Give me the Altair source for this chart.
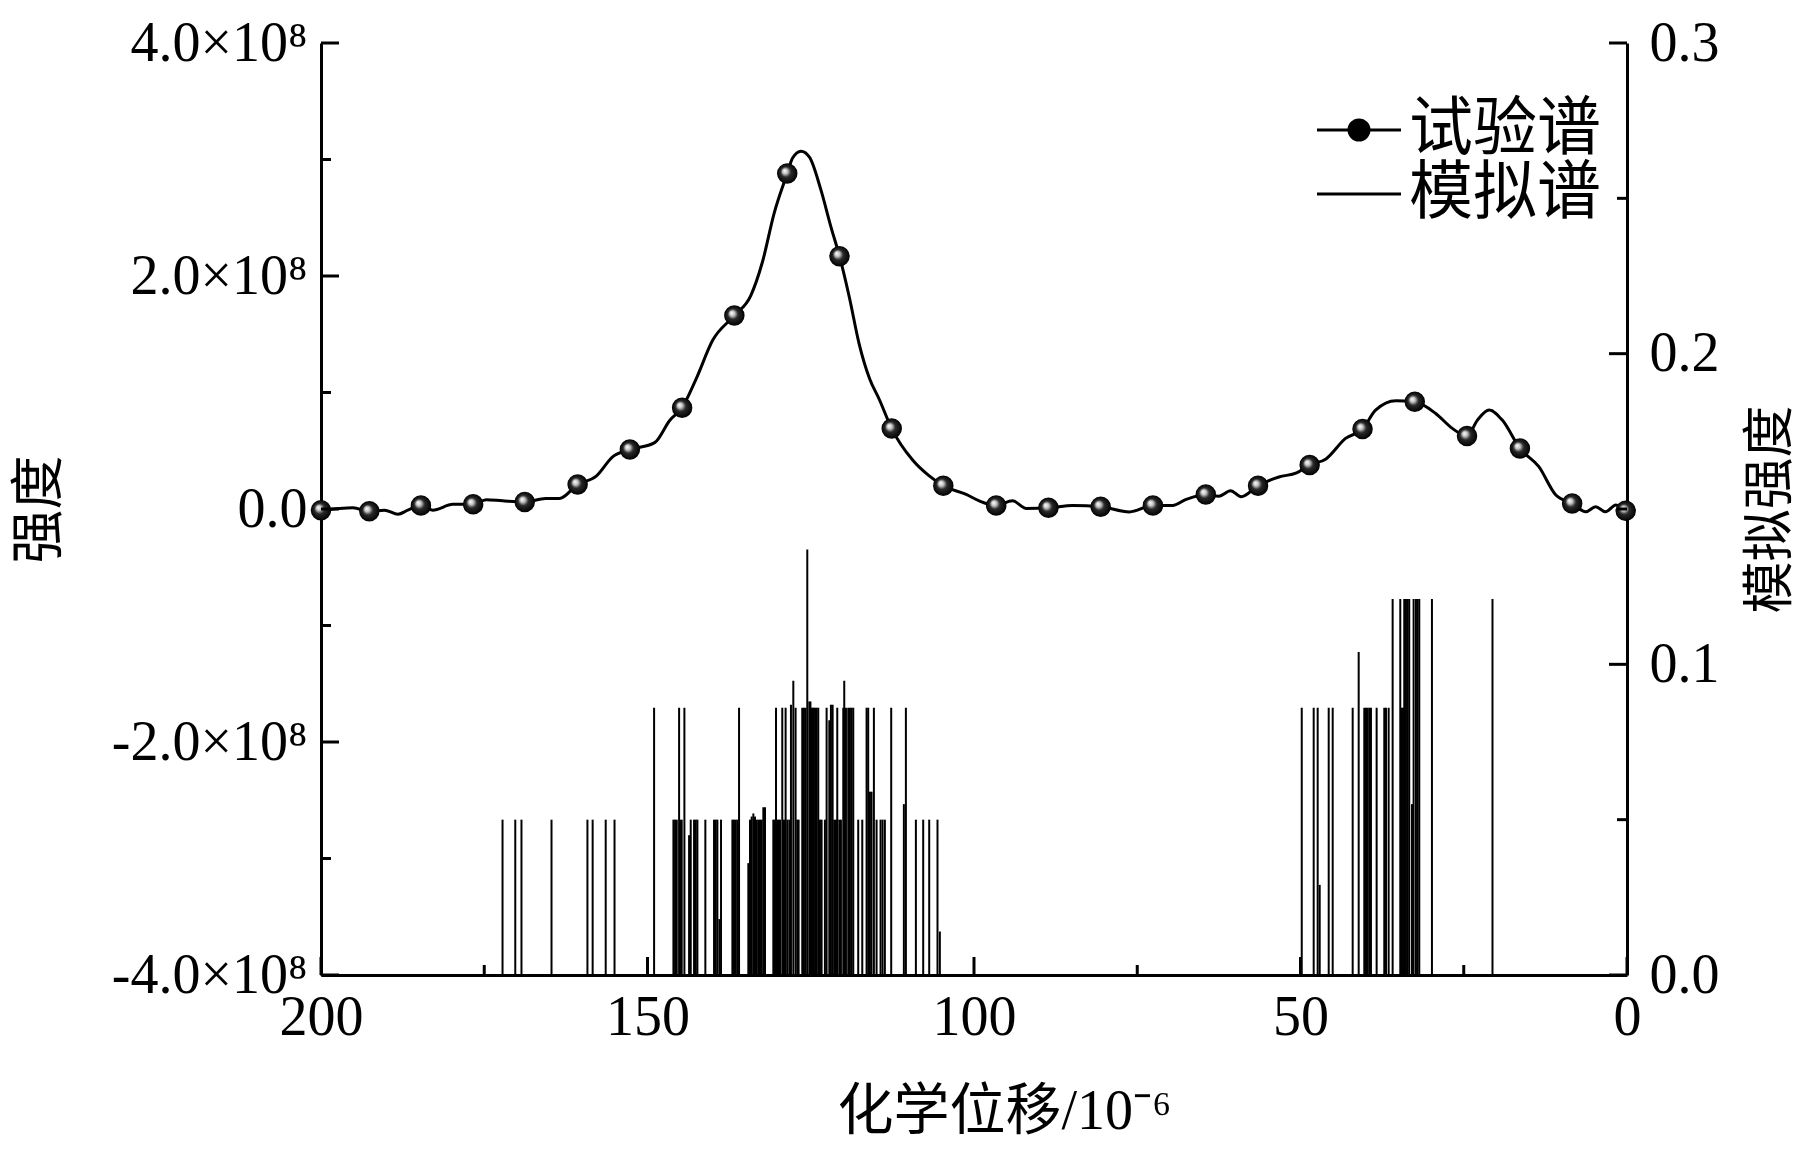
import altair as alt
import pandas as pd

# ---------------- data ----------------
# experimental spectrum (chemical shift, intensity in 1e8)
curve_shift = [200.0, 197.2, 195.1, 192.6, 190.3, 188.2, 186.7, 184.7, 182.9, 179.8,
               176.7, 174.7, 172.2, 168.8, 165.6, 163.5, 160.7, 157.9, 155.3, 152.7,
               148.9, 146.6, 144.7, 142.6, 140.0, 136.7, 134.2, 132.4, 130.6, 128.6,
               127.8, 126.5, 125.2, 123.5, 121.9, 120.6, 119.1, 117.6, 116.0, 114.5,
               112.6, 109.4, 107.0, 104.7, 101.2, 99.2, 96.6, 94.1, 92.0, 88.6,
               84.9, 80.6, 76.2, 72.6, 69.6, 67.6, 64.5, 62.5, 60.7, 59.1,
               56.5, 53.3, 50.6, 48.6, 46.1, 43.1, 40.5, 38.5, 35.4, 32.5,
               29.3, 26.7, 24.5, 22.9, 21.1, 19.1, 16.4, 13.5, 10.9, 8.4,
               6.3, 4.8, 3.3, 1.7, 0.2]
curve_int = [-0.01, 0.005, 0.01, -0.02, -0.01, -0.045, -0.01, 0.03, -0.01, 0.04,
             0.04, 0.08, 0.07, 0.06, 0.09, 0.09, 0.21, 0.28, 0.45, 0.51,
             0.57, 0.76, 0.87, 1.11, 1.45, 1.66, 1.83, 2.12, 2.54, 2.88,
             3.01, 3.07, 3.02, 2.75, 2.42, 2.17, 1.82, 1.42, 1.12, 0.94,
             0.69, 0.42, 0.29, 0.20, 0.125, 0.07, 0.03, 0.07, 0.005, 0.01,
             0.03, 0.02, -0.025, 0.03, 0.03, 0.08, 0.125, 0.11, 0.157, 0.105,
             0.20, 0.275, 0.31, 0.377, 0.43, 0.606, 0.686, 0.849, 0.93, 0.92,
             0.82, 0.69, 0.626, 0.763, 0.849, 0.763, 0.52, 0.363, 0.12, 0.048,
             -0.024, 0.019, -0.024, 0.034, -0.015]

marker_shift = [200.0, 192.6, 184.7, 176.7, 168.8, 160.7, 152.7, 144.7, 136.7, 128.6,
                120.6, 112.6, 104.7, 96.6, 88.6, 80.6, 72.6, 64.5, 56.5, 48.6,
                40.5, 32.5, 24.5, 16.4, 8.4, 0.2]
marker_int = [-0.01, -0.02, 0.03, 0.04, 0.06, 0.21, 0.51, 0.87, 1.66, 2.88,
              2.17, 0.69, 0.20, 0.03, 0.01, 0.02, 0.03, 0.125, 0.20, 0.377,
              0.686, 0.92, 0.626, 0.52, 0.048, -0.015]

# simulated stick spectrum (chemical shift, simulated intensity)
stick_shift = [172.2, 170.25, 169.3, 164.7, 159.2, 158.4, 156.4, 155.05, 148.99, 146.03,
               145.78, 145.52, 145.16, 145.01, 144.76, 144.35, 143.63, 143.38, 142.87, 142.61,
               142.36, 141.14, 139.81, 139.55, 139.30, 138.99, 138.74, 137.00, 136.75, 136.49,
               136.24, 135.98, 134.56, 134.30, 134.05, 133.79, 133.54, 133.28, 133.03, 132.77,
               132.52, 132.26, 132.01, 130.73, 130.53, 130.32, 130.12, 129.92, 129.71, 129.36,
               129.10, 128.85, 128.59, 128.28, 128.03, 127.67, 127.32, 127.06, 126.86, 126.30,
               126.04, 125.79, 125.53, 125.22, 125.05, 124.87, 124.69, 124.51, 124.30, 124.10,
               123.85, 123.59, 123.34, 122.83, 122.57, 122.16, 121.91, 121.65, 121.40, 121.14,
               120.94, 120.63, 120.38, 120.02, 119.87, 119.61, 119.26, 119.00, 118.75, 118.49,
               117.73, 117.11, 116.45, 116.20, 115.94, 115.69, 115.33, 114.92, 114.31, 114.00,
               113.65, 112.68, 110.74, 110.43, 108.90, 107.78, 106.86, 105.59, 105.23,
               49.81, 47.98, 47.37, 47.06, 45.68, 45.07, 42.01, 41.09, 40.23, 39.97,
               39.72, 39.46, 39.21, 38.34, 37.17, 36.91, 36.50, 35.89, 34.72, 34.46,
               34.26, 34.11, 33.85, 33.60, 33.35, 32.93, 32.68, 32.32, 32.07, 31.81,
               29.87, 20.60]
stick_height = [0.050, 0.050, 0.050, 0.050, 0.050, 0.050, 0.050, 0.050, 0.086, 0.050,
                0.050, 0.050, 0.086, 0.050, 0.050, 0.086, 0.045, 0.050, 0.050, 0.050,
                0.050, 0.050, 0.050, 0.050, 0.050, 0.018, 0.050, 0.050, 0.050, 0.050,
                0.050, 0.086, 0.036, 0.050, 0.051, 0.052, 0.051, 0.050, 0.050, 0.050,
                0.050, 0.054, 0.054, 0.050, 0.050, 0.086, 0.050, 0.050, 0.050, 0.086,
                0.050, 0.086, 0.050, 0.050, 0.087, 0.0947, 0.086, 0.050, 0.050, 0.086,
                0.086, 0.086, 0.137, 0.088, 0.088, 0.086, 0.086, 0.086, 0.086, 0.086,
                0.086, 0.050, 0.050, 0.050, 0.086, 0.082, 0.087, 0.087, 0.050, 0.050,
                0.086, 0.050, 0.050, 0.086, 0.0947, 0.086, 0.086, 0.086, 0.086, 0.086,
                0.050, 0.050, 0.086, 0.086, 0.059, 0.059, 0.086, 0.050, 0.050, 0.050,
                0.050, 0.086, 0.055, 0.086, 0.050, 0.050, 0.050, 0.050, 0.014,
                0.086, 0.086, 0.086, 0.029, 0.086, 0.086, 0.086, 0.104, 0.086, 0.086,
                0.086, 0.086, 0.086, 0.086, 0.086, 0.086, 0.086, 0.121, 0.121, 0.086,
                0.086, 0.121, 0.121, 0.121, 0.121, 0.055, 0.121, 0.121, 0.121, 0.121,
                0.121, 0.121]

x_major = [200, 150, 100, 50, 0]
x_minor = [175, 125, 75, 25]
left_major = [-4, -2, 0, 2, 4]
left_minor = [-3, -1, 1, 3]
right_major = [0.0, 0.1, 0.2, 0.3]
right_minor = [0.05, 0.15, 0.25]
legend_labels = ["试验谱", "模拟谱"]

x_title = "化学位移/10⁻⁶"
left_title = "强度"
right_title = "模拟强度"

# ---------------- style ----------------
W, H = 1306, 932
SERIF = "Liberation Serif, Noto Sans CJK SC"
MAJ, MIN = 18, 10

xs = alt.Scale(domain=[0, 200], reverse=True, nice=False, zero=False)
yl = alt.Scale(domain=[-4, 4], nice=False, zero=False)
yr = alt.Scale(domain=[0, 0.3], nice=False, zero=False)

curve_df = pd.DataFrame({"shift": curve_shift, "intensity": curve_int})
marker_df = pd.DataFrame({"shift": marker_shift, "intensity": marker_int})
stick_df = pd.DataFrame({"shift": stick_shift, "sim": stick_height})

x_axis = alt.Axis(values=x_major, format="d", tickSize=0, domainWidth=3, domainColor="black",
                  labelFont=SERIF, labelFontSize=56, labelColor="black", labelPadding=15,
                  labelFlush=False, grid=False, title=x_title, titleFont=SERIF,
                  titleFontSize=56, titleFontWeight="normal", titleColor="black",
                  titlePadding=39, titleX=W / 2 + 30)

left_axis = alt.Axis(values=left_major, orient="left", tickSize=0, domainWidth=3, domainColor="black",
                     labelExpr="datum.value == 0 ? '0.0' : (datum.value < 0 ? '-' : '') + format(abs(datum.value), '.1f') + '×10⁸'",
                     labelFont=SERIF, labelFontSize=56, labelColor="black", labelPadding=14,
                     labelLimit=400, labelFlush=False, grid=False, title=left_title, titleFont=SERIF,
                     titleFontSize=54, titleFontWeight="normal", titleColor="black",
                     titlePadding=54)

right_axis = alt.Axis(values=right_major, orient="right", format=".1f", tickSize=0, domainWidth=3,
                      domainColor="black", labelFont=SERIF, labelFontSize=56, labelColor="black",
                      labelPadding=22, labelFlush=False, grid=False, title=right_title, titleFont=SERIF,
                      titleFontSize=52, titleFontWeight="normal", titleColor="black",
                      titleAngle=270, titlePadding=78)

line = alt.Chart(curve_df).mark_line(color="black", strokeWidth=3, interpolate="monotone").encode(
    x=alt.X("shift:Q", scale=xs, axis=x_axis, title=x_title),
    y=alt.Y("intensity:Q", scale=yl, axis=left_axis, title=left_title),
)

ball = alt.RadialGradient(
    gradient="radial", x1=0.36, y1=0.36, r1=0.0, x2=0.5, y2=0.5, r2=0.5,
    stops=[alt.GradientStop(offset=0.0, color="#ffffff"),
           alt.GradientStop(offset=0.25, color="#c4c4c4"),
           alt.GradientStop(offset=0.5, color="#2a2a2a"),
           alt.GradientStop(offset=1.0, color="#000000")])

points = alt.Chart(marker_df).mark_point(filled=True, size=420, opacity=1, color=ball, strokeWidth=0).encode(
    x=alt.X("shift:Q", scale=xs, axis=x_axis, title=x_title),
    y=alt.Y("intensity:Q", scale=yl, axis=left_axis, title=left_title),
)

lmaj = alt.Chart(pd.DataFrame({"t": left_major})).mark_rule(color="black", strokeWidth=3).encode(
    y=alt.Y("t:Q", scale=yl, axis=left_axis, title=left_title), x=alt.value(0), x2=alt.value(MAJ))
lmin = alt.Chart(pd.DataFrame({"t": left_minor})).mark_rule(color="black", strokeWidth=3).encode(
    y=alt.Y("t:Q", scale=yl, axis=left_axis, title=left_title), x=alt.value(0), x2=alt.value(MIN))
xmaj = alt.Chart(pd.DataFrame({"t": x_major})).mark_rule(color="black", strokeWidth=3).encode(
    x=alt.X("t:Q", scale=xs, axis=x_axis, title=x_title), y=alt.value(H), y2=alt.value(H - MAJ))
xmin = alt.Chart(pd.DataFrame({"t": x_minor})).mark_rule(color="black", strokeWidth=3).encode(
    x=alt.X("t:Q", scale=xs, axis=x_axis, title=x_title), y=alt.value(H), y2=alt.value(H - MIN))

# legend symbols: a horizontal line, and a line with a (stroke-filled) ball
rings = "".join(f"M{r},0A{r},{r},0,1,1,-{r},0A{r},{r},0,1,1,{r},0" for r in (0.5, 0.38, 0.26, 0.14, 0.04))
ball_path = "M-2.1,0L2.1,0" + rings
line_path = "M-2.1,0L2.1,0"
legend_layer = alt.Chart(pd.DataFrame({"series": legend_labels})).mark_point(
    filled=False, opacity=0, color="black", strokeWidth=3).encode(
    x=alt.value(0), y=alt.value(0),
    shape=alt.Shape("series:N", scale=alt.Scale(domain=legend_labels, range=[ball_path, line_path]),
                    legend=alt.Legend(title=None, orient="none", legendX=1006, legendY=55,
                                      symbolSize=1600, symbolOpacity=1,
                                      symbolStrokeColor="black", symbolStrokeWidth=3,
                                      labelFont=SERIF, labelFontSize=64, labelColor="black",
                                      labelOffset=18, rowPadding=0, padding=0,
                                      labelLimit=400)),
)

sticks = alt.Chart(stick_df).mark_rule(color="black", strokeWidth=2).encode(
    x=alt.X("shift:Q", scale=xs, axis=x_axis, title=x_title),
    y=alt.Y("sim:Q", scale=yr, axis=right_axis, title=right_title),
    y2=alt.datum(0),
)
rmaj = alt.Chart(pd.DataFrame({"t": right_major})).mark_rule(color="black", strokeWidth=3).encode(
    y=alt.Y("t:Q", scale=yr, axis=right_axis, title=right_title), x=alt.value(W), x2=alt.value(W - MAJ))
rmin = alt.Chart(pd.DataFrame({"t": right_minor})).mark_rule(color="black", strokeWidth=3).encode(
    y=alt.Y("t:Q", scale=yr, axis=right_axis, title=right_title), x=alt.value(W), x2=alt.value(W - MIN))

left = alt.layer(line, points, lmaj, lmin, xmaj, xmin, legend_layer)
right = alt.layer(sticks, rmaj, rmin)

chart = alt.layer(left, right).resolve_scale(y="independent").properties(
    width=W, height=H, background="white",
    padding={"left": 313, "top": 35, "right": 177, "bottom": 170},
    autosize=alt.AutoSizeParams(type="none"),
).configure_view(stroke="transparent", strokeWidth=0)

chart.save("out.html", embed_options={"renderer": "svg", "actions": False})
